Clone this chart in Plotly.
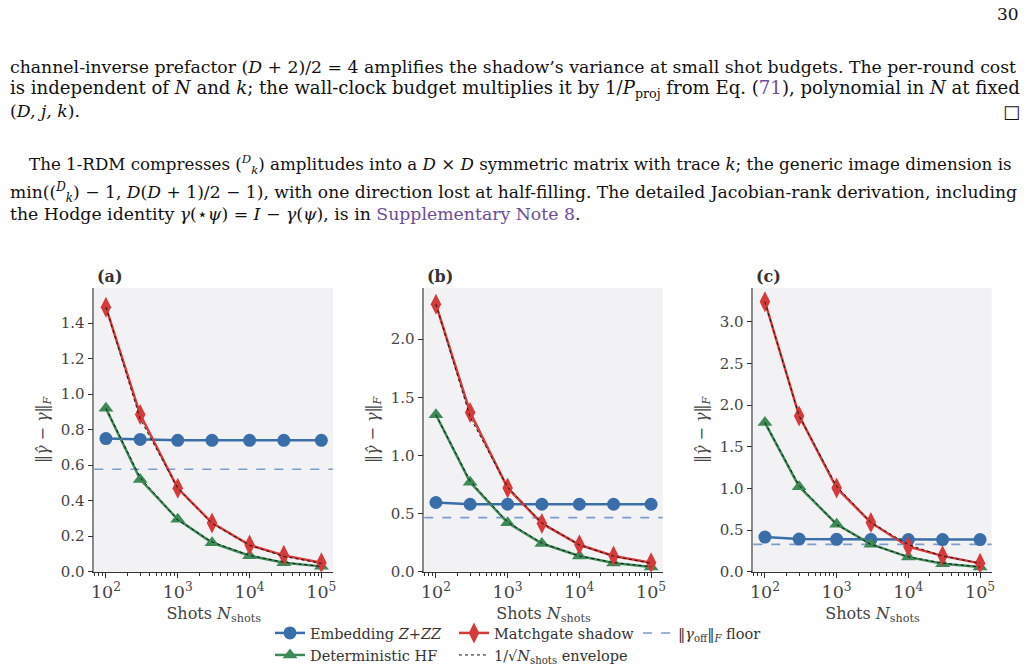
import plotly.graph_objects as go

W, H = 1028, 670

# ---------------- data ----------------
shots = [100, 300, 1000, 3000, 10000, 30000, 100000]

emb_a = [0.75, 0.745, 0.74, 0.74, 0.74, 0.74, 0.74]
mg_a = [1.49, 0.885, 0.47, 0.275, 0.15, 0.092, 0.051]
hf_a = [0.92, 0.52, 0.295, 0.163, 0.09, 0.05, 0.03]
env_mg_a = [1.49, 0.86, 0.471, 0.272, 0.149, 0.086, 0.047]
env_hf_a = [0.92, 0.531, 0.291, 0.168, 0.092, 0.053, 0.029]
floor_a = 0.577

emb_b = [0.595, 0.58, 0.58, 0.58, 0.58, 0.58, 0.58]
mg_b = [2.30, 1.37, 0.72, 0.415, 0.232, 0.135, 0.077]
hf_b = [1.35, 0.77, 0.42, 0.242, 0.135, 0.075, 0.04]
env_mg_b = [2.30, 1.328, 0.727, 0.42, 0.23, 0.133, 0.073]
env_hf_b = [1.35, 0.779, 0.427, 0.246, 0.135, 0.078, 0.043]
floor_b = 0.465

emb_c = [0.415, 0.392, 0.388, 0.385, 0.385, 0.385, 0.385]
mg_c = [3.24, 1.87, 1.005, 0.59, 0.30, 0.19, 0.10]
hf_c = [1.79, 1.02, 0.57, 0.33, 0.175, 0.095, 0.055]
env_mg_c = [3.24, 1.871, 1.025, 0.592, 0.324, 0.187, 0.102]
env_hf_c = [1.79, 1.033, 0.566, 0.327, 0.179, 0.103, 0.057]
floor_c = 0.328

panel_labels = ["(a)", "(b)", "(c)"]
y_ranges = [[0, 1.598], [0, 2.44], [0, 3.405]]
y_dticks = [0.2, 0.5, 0.5]

panels = [
    (emb_a, mg_a, hf_a, env_mg_a, env_hf_a, floor_a),
    (emb_b, mg_b, hf_b, env_mg_b, env_hf_b, floor_b),
    (emb_c, mg_c, hf_c, env_mg_c, env_hf_c, floor_c),
]

# ---------------- style ----------------
BLUE = "#3a6ea8"
RED = "#d63a3a"
GREEN = "#3e8a57"
FLOOR = "#7a9bcc"
PLOTBG = "#f2f2f5"
SERIF = "DejaVu Serif"
LINK = "#6b4c9a"

# pixel layout
x_px = [(94.3, 333.0), (424.3, 662.7), (753.3, 991.7)]
y_px = (288.0, 571.7)


def px(x):
    return x / W


def py(y):
    return 1 - y / H


fig = go.Figure()

for i, (emb, mg, hf, env_mg, env_hf, flo) in enumerate(panels):
    n = "" if i == 0 else str(i + 1)
    xa, ya = "x" + n, "y" + n
    first = i == 0
    fig.add_trace(go.Scatter(
        x=shots, y=emb, mode="lines+markers", name="Embedding <i>Z</i>+<i>ZZ</i>",
        line=dict(color=BLUE, width=2.5), marker=dict(symbol="circle", size=13, color=BLUE),
        xaxis=xa, yaxis=ya, showlegend=first, legend="legend", legendrank=1))
    fig.add_trace(go.Scatter(
        x=shots, y=hf, mode="lines+markers", name="Deterministic HF",
        line=dict(color=GREEN, width=2.5), marker=dict(symbol="triangle-up", size=13, color=GREEN),
        xaxis=xa, yaxis=ya, showlegend=first, legend="legend2", legendrank=1))
    fig.add_trace(go.Scatter(
        x=shots, y=mg, mode="lines+markers", name="Matchgate shadow",
        line=dict(color=RED, width=2.5), marker=dict(symbol="diamond-tall", size=15, color=RED),
        xaxis=xa, yaxis=ya, showlegend=first, legend="legend", legendrank=2))
    fig.add_trace(go.Scatter(
        x=shots, y=env_mg, mode="lines", name="1/√<i>N</i><sub>shots</sub> envelope",
        line=dict(color="#111111", width=1.0, dash="dot"),
        xaxis=xa, yaxis=ya, showlegend=first, legend="legend2", legendrank=2))
    fig.add_trace(go.Scatter(
        x=shots, y=env_hf, mode="lines", name="env hf",
        line=dict(color="#111111", width=1.0, dash="dot"),
        xaxis=xa, yaxis=ya, showlegend=False))
    # floor
    fig.add_shape(type="line", xref=xa + " domain", yref=ya, x0=0, x1=1, y0=flo, y1=flo,
                  line=dict(color=FLOOR, width=1.6, dash="dash"), layer="below")
    if first:
        fig.add_trace(go.Scatter(
            x=[None], y=[None], mode="lines", name="‖<i>γ</i><sub>off</sub>‖<sub><i>F</i></sub> floor",
            line=dict(color=FLOOR, width=1.6, dash="dash"),
            xaxis=xa, yaxis=ya, showlegend=True, legend="legend", legendrank=3))

    x0, x1 = x_px[i]
    fig.layout["xaxis" + n] = dict(
        domain=[px(x0), px(x1)], anchor=ya, type="log", range=[1.838, 5.162],
        dtick=1, exponentformat="power", showgrid=False, zeroline=False,
        showline=True, linecolor="#333333", linewidth=1.3, automargin=False,
        ticks="outside", ticklen=5, tickwidth=1.1, tickcolor="#333333",
        minor=dict(ticks="outside", ticklen=3, tickwidth=0.9, tickcolor="#333333", showgrid=False),
        tickfont=dict(family=SERIF, size=14, color="#444444"),
        title=dict(text="Shots <i>N</i><sub>shots</sub>", font=dict(family=SERIF, size=16, color="#444444"),
                   standoff=6),
    )
    fig.layout["yaxis" + n] = dict(
        domain=[py(y_px[1]), py(y_px[0])], anchor=xa, range=y_ranges[i], dtick=y_dticks[i],
        tickformat=".1f", showgrid=False, zeroline=False, automargin=False,
        showline=True, linecolor="#888888", linewidth=1.6,
        ticks="outside", ticklen=5, tickwidth=1.1, tickcolor="#333333",
        tickfont=dict(family=SERIF, size=15, color="#444444"),
        title=dict(text="‖<i>γ̂</i> − <i>γ</i>‖<sub><i>F</i></sub>", font=dict(family=SERIF, size=16, color="#444444"),
                   standoff=8),
    )
    fig.add_annotation(text="<b>" + panel_labels[i] + "</b>", xref="paper", yref="paper",
                       x=px(x0 + 1), y=py(276), xanchor="left", yanchor="middle", showarrow=False,
                       font=dict(family=SERIF, size=16, color="#333333"))

# ---------------- page text ----------------
lines = [
    (8, 67, 17.3, "channel-inverse prefactor (<i>D</i> + 2)/2 = 4 amplifies the shadow’s variance at small shot budgets. The per-round cost"),
    (8, 89, 18.1, "is independent of <i>N</i> and <i>k</i>; the wall-clock budget multiplies it by 1/<i>P</i><sub>proj</sub> from Eq. (<span style='color:" + LINK + "'>71</span>), polynomial in <i>N</i> at fixed"),
    (8, 111, 17.3, "(<i>D, j, k</i>)."),
    (27, 165, 16.7, "The 1-RDM compresses (<sup><i>D</i></sup><sub><i>k</i></sub>) amplitudes into a <i>D</i> × <i>D</i> symmetric matrix with trace <i>k</i>; the generic image dimension is"),
    (8, 192, 17.15, "min((<sup><i>D</i></sup><sub><i>k</i></sub>) − 1, <i>D</i>(<i>D</i> + 1)/2 − 1), with one direction lost at half-filling. The detailed Jacobian-rank derivation, including"),
    (8, 214, 17.3, "the Hodge identity <i>γ</i>(⋆<i>ψ</i>) = <i>I</i> − <i>γ</i>(<i>ψ</i>), is in <span style='color:" + LINK + "'>Supplementary Note 8</span>."),
]
for (lx, ly, fs, t) in lines:
    fig.add_annotation(text=t, xref="paper", yref="paper", x=px(lx), y=py(ly),
                       xanchor="left", yanchor="middle", showarrow=False,
                       font=dict(family=SERIF, size=fs, color="#111111"))
fig.add_annotation(text="□", xref="paper", yref="paper", x=px(1022), y=py(111),
                   xanchor="right", yanchor="middle", showarrow=False, font=dict(family=SERIF, size=18, color="#111111"))
fig.add_annotation(text="30", xref="paper", yref="paper", x=px(1021), y=py(14),
                   xanchor="right", yanchor="middle", showarrow=False, font=dict(family=SERIF, size=17, color="#111111"))

LEGFONT = dict(family=SERIF, size=14.5, color="#333333")
fig.update_layout(
    width=W, height=H, margin=dict(l=0, r=0, t=0, b=0, autoexpand=False),
    paper_bgcolor="white", plot_bgcolor=PLOTBG,
    legend=dict(orientation="h", x=px(270), y=py(633), xanchor="left", yanchor="middle",
                font=LEGFONT, entrywidth=139, entrywidthmode="pixels", itemwidth=30,
                bgcolor="rgba(0,0,0,0)", tracegroupgap=0, traceorder="normal"),
    legend2=dict(orientation="h", x=px(270), y=py(655), xanchor="left", yanchor="middle",
                 font=LEGFONT, entrywidth=139, entrywidthmode="pixels", itemwidth=30,
                 bgcolor="rgba(0,0,0,0)", tracegroupgap=0, traceorder="normal"),
)

fig.write_html("out.html")
